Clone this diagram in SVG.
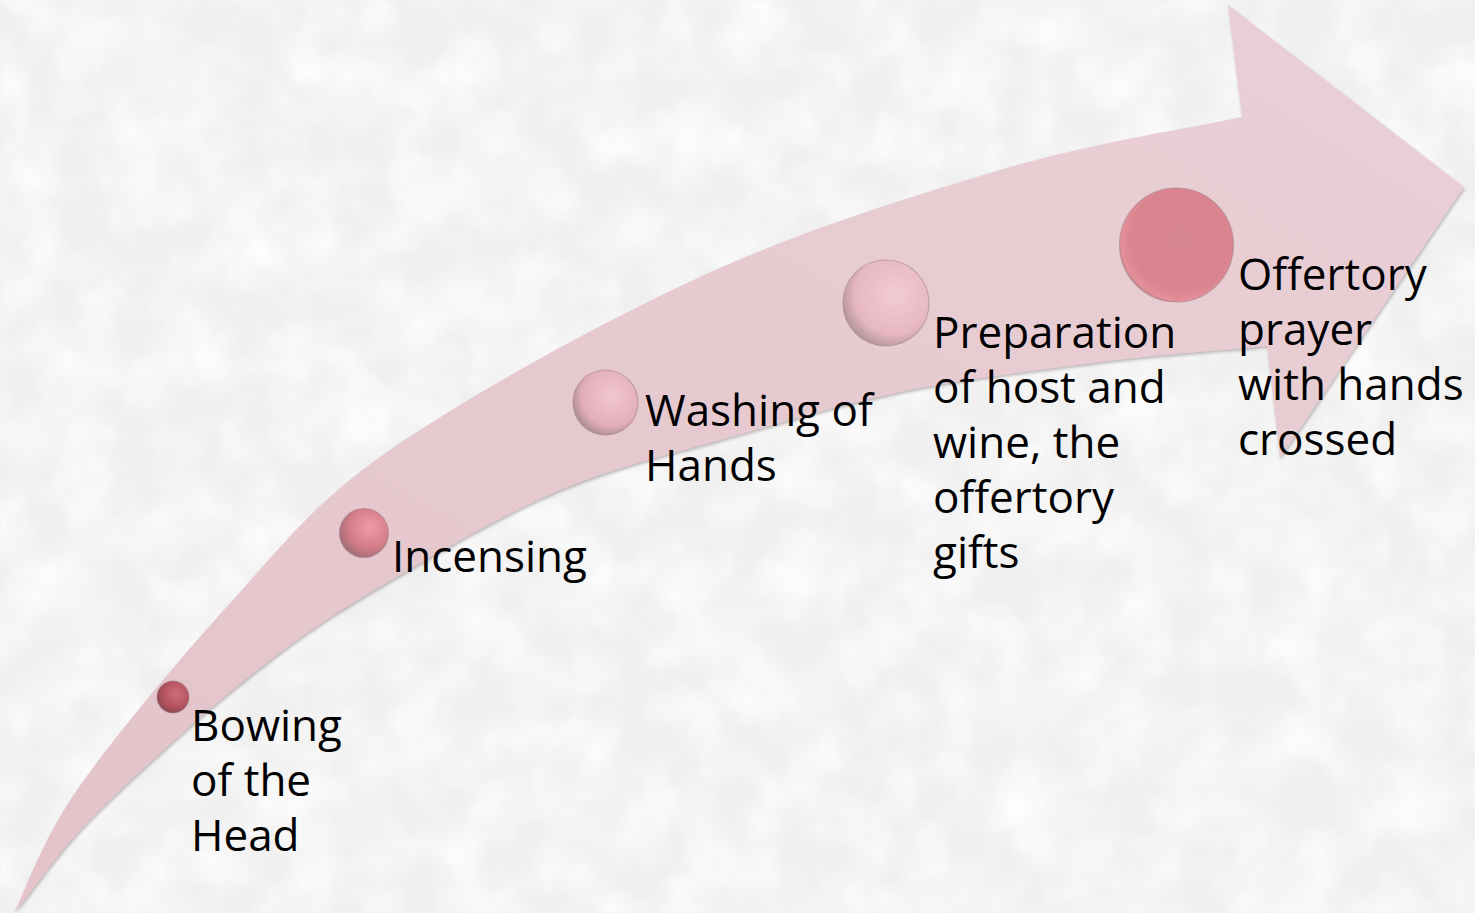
<svg xmlns="http://www.w3.org/2000/svg" width="1475" height="913" viewBox="0 0 1475 913">
  <defs>
    <filter id="tex" x="0" y="0" width="100%" height="100%">
      <feTurbulence type="fractalNoise" baseFrequency="0.018" numOctaves="3" seed="7" result="n"/>
      <feColorMatrix in="n" type="matrix" values="0 0 0 0 1  0 0 0 0 1  0 0 0 0 1  0 0 0 1.6 -0.55"/>
      <feGaussianBlur stdDeviation="1.2"/>
    </filter>
    <filter id="shadow" x="-5%" y="-5%" width="110%" height="110%">
      <feDropShadow dx="1" dy="2" stdDeviation="1.5" flood-color="#7a6a6e" flood-opacity="0.45"/>
    </filter>
    <linearGradient id="arrowFill" x1="0" y1="1" x2="1" y2="0">
      <stop offset="0" stop-color="#e4c3ca"/>
      <stop offset="1" stop-color="#e9d0d6"/>
    </linearGradient>
    <radialGradient id="b1" cx="0.6" cy="0.4" r="0.6">
      <stop offset="0" stop-color="#cf6f7a"/>
      <stop offset="0.7" stop-color="#b4525e"/>
      <stop offset="1" stop-color="#8f4a52"/>
    </radialGradient>
    <radialGradient id="b2" cx="0.62" cy="0.38" r="0.62">
      <stop offset="0" stop-color="#f09aa5"/>
      <stop offset="0.7" stop-color="#d27c88"/>
      <stop offset="1" stop-color="#a9707a"/>
    </radialGradient>
    <radialGradient id="b3" cx="0.6" cy="0.4" r="0.62">
      <stop offset="0" stop-color="#f2c7d2"/>
      <stop offset="0.75" stop-color="#e2adbb"/>
      <stop offset="1" stop-color="#b08f98"/>
    </radialGradient>
    <radialGradient id="b4" cx="0.6" cy="0.4" r="0.62">
      <stop offset="0" stop-color="#f2cbd5"/>
      <stop offset="0.75" stop-color="#e6b7c3"/>
      <stop offset="1" stop-color="#b8979f"/>
    </radialGradient>
    <radialGradient id="b5" cx="0.55" cy="0.45" r="0.6">
      <stop offset="0" stop-color="#d88690"/>
      <stop offset="0.75" stop-color="#d9848e"/>
      <stop offset="0.9" stop-color="#e48f99"/>
      <stop offset="1" stop-color="#a67a80"/>
    </radialGradient>
  </defs>
  <style>
    .lbl { font-family: "Open Sans", "Noto Sans", sans-serif; font-size: 44px; fill: #000; }
    .ball { stroke: #9c7f85; stroke-opacity: 0.5; stroke-width: 1.2; }
  </style>

  <!-- background -->
  <rect x="0" y="0" width="1475" height="913" fill="#f0f0f0"/>
  <rect x="0" y="0" width="1475" height="913" filter="url(#tex)"/>

  <!-- arrow -->
  <g id="connectors">
    <path id="arrow" filter="url(#shadow)" fill="url(#arrowFill)"
      d="M14,913 C25,892 41,842 77,790 C113,738 181,657 233,600 C285,543 312,504 390,450 C468,396 598,324 700,277 C802,230 910,197 1000,170 C1090,143 1202,126 1242,117 L1228,5 L1464,187 L1280,458 L1267,346 C1239,349 1161,354 1100,362 C1039,370 962,379 900,392 C838,405 784,422 727,438 C670,454 615,467 560,490 C506,513 443,550 400,575 C357,600 334,614 300,638 C266,662 233,689 197,720 C161,752 113,795 83,827 C53,859 29,896 14,913 Z"/>
  </g>

  <g id="node1">
    <circle class="ball" cx="173" cy="697" r="16" fill="url(#b1)"/>
    <text class="lbl" x="191" y="741">Bowing</text>
    <text class="lbl" x="191" y="796">of the</text>
    <text class="lbl" x="191" y="851">Head</text>
  </g>
  <g id="node2">
    <circle class="ball" cx="364" cy="533" r="24.5" fill="url(#b2)"/>
    <text class="lbl" x="392" y="572">Incensing</text>
  </g>
  <g id="node3">
    <circle class="ball" cx="605.5" cy="402.5" r="32.5" fill="url(#b3)"/>
    <text class="lbl" x="645" y="426">Washing of</text>
    <text class="lbl" x="645" y="481">Hands</text>
  </g>
  <g id="node4">
    <circle class="ball" cx="886" cy="303" r="43" fill="url(#b4)"/>
    <text class="lbl" x="933" y="348">Preparation</text>
    <text class="lbl" x="933" y="403">of host and</text>
    <text class="lbl" x="933" y="458">wine, the</text>
    <text class="lbl" x="933" y="513">offertory</text>
    <text class="lbl" x="933" y="568">gifts</text>
  </g>
  <g id="node5">
    <circle class="ball" cx="1176.5" cy="245" r="57" fill="url(#b5)"/>
    <text class="lbl" x="1238" y="290">Offertory</text>
    <text class="lbl" x="1238" y="345">prayer</text>
    <text class="lbl" x="1238" y="400">with hands</text>
    <text class="lbl" x="1238" y="455">crossed</text>
  </g>
</svg>
